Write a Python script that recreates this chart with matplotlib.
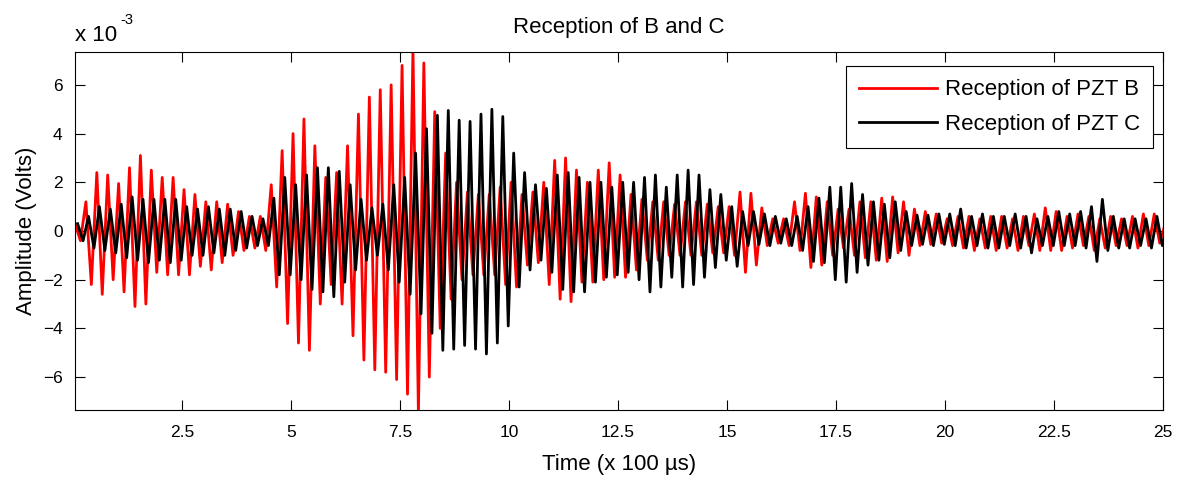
import numpy as np
import matplotlib
matplotlib.use("Agg")
import matplotlib.pyplot as plt

plt.rcParams["font.family"] = ["Liberation Sans", "DejaVu Sans"]

# successive peak / trough amplitudes (x 1e-3 V), one row per 2.5 time units
reception_b = [
    0.3, -0.4, 1.2, -2.2, 2.4, -2.6, 2.3, -2.0, 1.95, -2.5, 2.6, -3.1, 3.1, -3.0, 2.5, -1.7, 2.2, -1.8, 2.2, -1.8,
    1.7, -1.8, 1.5, -1.45, 1.2, -1.6, 1.2, -1.3, 1.1, -1.0, 0.8, -0.8, 0.6, -0.7, 0.6, -0.8, 1.9, -2.3, 3.3, -3.8,
    4.0, -4.6, 4.6, -4.9, 3.5, -3.0, 2.2, -2.2, 2.4, -3.0, 3.5, -4.3, 4.8, -5.3, 5.5, -5.7, 5.8, -5.8, 6.0, -6.1,
    6.8, -6.7, 7.5, -7.5, 6.9, -6.0, 4.9, -4.0, 3.2, -2.8, 2.0, -2.0, 1.6, -1.8, 1.5, -1.8, 1.5, -1.8, 1.8, -2.2,
    2.0, -2.3, 1.5, -1.4, 1.6, -1.3, 2.0, -2.2, 2.9, -2.8, 3.0, -2.9, 2.5, -2.1, 2.0, -2.1, 2.5, -2.0, 2.8, -1.9,
    2.3, -1.9, 1.5, -1.6, 1.3, -1.2, 1.2, -1.2, 1.2, -1.0, 1.1, -1.0, 1.2, -1.0, 1.2, -1.0, 1.1, -0.9, 1.0, -0.9,
    1.0, -1.0, 1.6, -1.7, 1.55, -1.4, 0.95, -0.6, 0.5, -0.5, 0.5, -0.6, 1.2, -0.8, 1.55, -1.5, 1.4, -1.4, 1.2, -1.0,
    0.9, -0.7, 0.9, -1.0, 1.2, -1.1, 1.2, -1.2, 1.35, -1.25, 1.4, -0.9, 1.2, -1.0, 0.9, -0.6, 0.8, -0.55, 0.7, -0.5,
    0.5, -0.6, 0.6, -0.7, 0.6, -0.8, 0.5, -0.7, 0.6, -0.8, 0.6, -0.7, 0.5, -0.8, 0.6, -0.6, 0.7, -0.8, 0.95, -0.8,
    0.8, -0.8, 0.6, -0.7, 0.7, -0.6, 0.6, -0.8, 0.5, -0.7, 0.6, -0.6, 0.5, -0.6, 0.6, -0.7, 0.7, -0.6, 0.7, -0.5,
    0.3,
]

reception_c = [
    0.3, -0.4, 0.6, -0.7, 1.0, -0.8, 0.9, -0.9, 1.1, -1.1, 1.4, -1.2, 1.3, -1.3, 1.3, -1.2, 1.3, -1.3, 1.3, -1.2,
    1.0, -1.0, 0.9, -1.0, 1.0, -0.9, 0.9, -1.0, 0.9, -0.8, 0.8, -0.7, 0.6, -0.6, 0.5, -0.6, 1.35, -1.8, 2.2, -1.8,
    1.9, -2.0, 2.3, -2.4, 2.6, -2.5, 2.6, -2.7, 2.45, -2.1, 1.9, -1.6, 1.3, -1.2, 0.95, -1.0, 1.1, -1.6, 1.9, -2.1,
    2.2, -2.6, 3.2, -3.4, 4.2, -4.2, 4.75, -4.9, 4.95, -4.85, 4.55, -4.7, 4.5, -4.85, 4.8, -5.05, 5.0, -4.6, 4.7, -3.9,
    3.2, -2.3, 2.4, -1.6, 1.9, -1.2, 1.75, -1.7, 2.3, -2.4, 2.4, -2.5, 2.2, -2.5, 2.0, -2.1, 2.0, -1.9, 1.8, -1.8,
    2.0, -1.7, 2.0, -2.0, 2.2, -2.5, 2.3, -2.3, 1.8, -1.9, 2.3, -2.3, 2.5, -2.2, 2.3, -1.9, 1.7, -1.5, 1.5, -1.2,
    1.0, -1.45, 0.8, -0.6, 0.8, -0.55, 0.7, -0.6, 0.6, -0.5, 0.5, -0.6, 0.6, -0.8, 1.0, -1.25, 1.35, -1.3, 1.8, -2.0,
    1.8, -2.1, 1.95, -1.7, 1.5, -1.4, 1.2, -1.2, 1.1, -1.1, 1.2, -0.8, 0.8, -0.6, 0.65, -0.55, 0.65, -0.6, 0.7, -0.55,
    0.7, -0.6, 0.9, -0.7, 0.6, -0.6, 0.7, -0.7, 0.6, -0.7, 0.6, -0.6, 0.7, -0.7, 0.6, -0.9, 0.5, -0.6, 0.6, -0.6,
    0.8, -0.6, 0.7, -0.6, 0.8, -0.7, 1.0, -1.25, 1.3, -0.8, 0.6, -0.7, 0.5, -0.7, 0.5, -0.6, 0.5, -0.7, 0.6, -0.6,
    0.2,
]

# time of the first extremum and spacing between extrema (x 100 us)
start_b, start_c = 0.05, 0.11
step = 0.125

xtick_vals = [2.5, 5, 7.5, 10, 12.5, 15, 17.5, 20, 22.5, 25]
xtick_labels = ["2.5", "5", "7.5", "10", "12.5", "15", "17.5", "20", "22.5", "25"]
ytick_vals = [-6, -4, -2, 0, 2, 4, 6]

t_b = start_b + step * np.arange(len(reception_b))
t_c = start_c + step * np.arange(len(reception_c))

fig = plt.figure(figsize=(11.83, 4.79), dpi=100, facecolor="white")
ax = fig.add_axes([75 / 1183, 1 - 410 / 479, 1088 / 1183, 358 / 479])

ax.plot(t_b, reception_b, color=(1, 0, 0), lw=2, label="Reception of PZT B")
ax.plot(t_c, reception_c, color="black", lw=2, label="Reception of PZT C")

ax.set_xlim(0.05, 25)
ax.set_ylim(-7.35, 7.35)
ax.set_xticks(xtick_vals)
ax.set_xticklabels(xtick_labels)
ax.set_yticks(ytick_vals)
ax.tick_params(direction="in", length=7, width=0.8, labelsize=12.5,
               top=True, right=True)
ax.tick_params(axis="x", pad=11)
ax.tick_params(axis="y", pad=9)
for sp in ax.spines.values():
    sp.set_linewidth(0.8)

ax.set_title("Reception of B and C", fontsize=16, pad=14)
ax.set_xlabel("Time (x 100 \u00b5s)", fontsize=16, labelpad=10)
ax.set_ylabel("Amplitude (Volts)", fontsize=16, labelpad=4)

fig.text(75 / 1183, 1 - 41 / 479, "x 10", fontsize=16, ha="left", va="baseline")
fig.text(120 / 1183, 1 - 24 / 479, "-3", fontsize=10.5, ha="left", va="baseline")

leg = ax.legend(loc="upper right", bbox_to_anchor=(0.991, 0.961), borderaxespad=0,
                fancybox=False, edgecolor="black", framealpha=1, fontsize=16,
                handlelength=3.5, handletextpad=0.35, borderpad=0.6, labelspacing=0.6)
leg.get_frame().set_linewidth(0.8)

fig.savefig("out.png", dpi=100)
